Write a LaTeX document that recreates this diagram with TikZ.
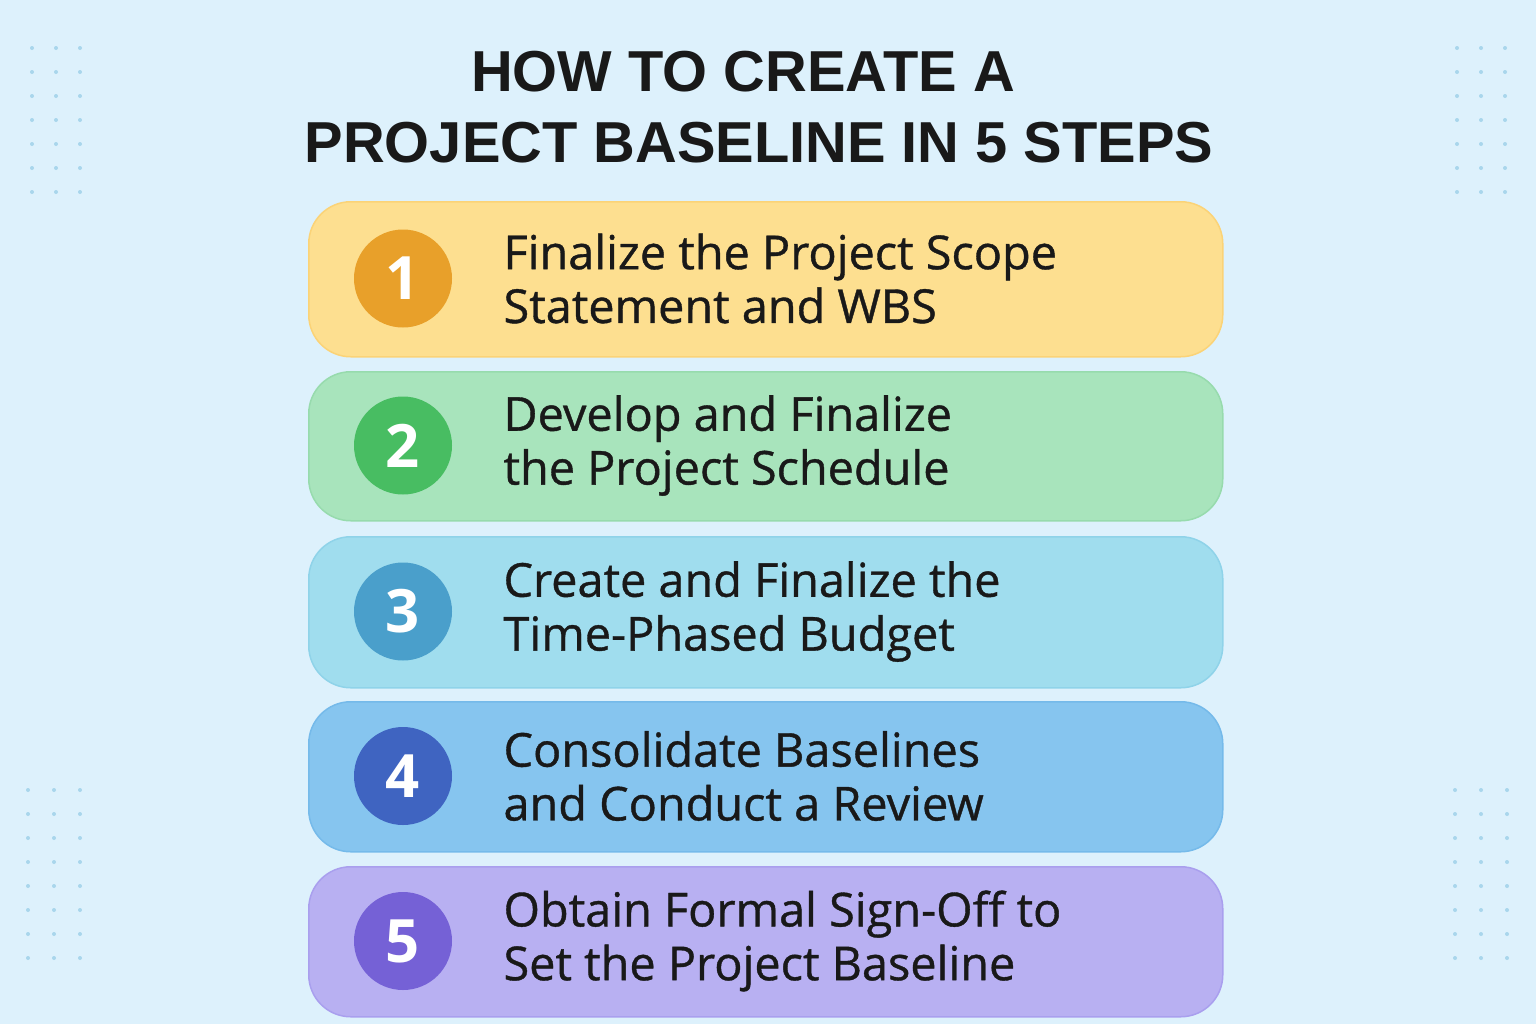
\documentclass[tikz,border=0pt]{standalone}
\usepackage{fontspec}
\setmainfont{Open Sans}
\newfontfamily\bodyfont{Open Sans}[FakeBold=0.8]
\newfontfamily\titlefont{Liberation Sans}
\definecolor{bg}{HTML}{DDF1FC}
\definecolor{dotc}{HTML}{A9D6EC}
\definecolor{fa}{HTML}{FDDF90}\definecolor{ba}{HTML}{FBD377}\definecolor{ca}{HTML}{E8A02A}
\definecolor{fb}{HTML}{A8E4BC}\definecolor{bb}{HTML}{97DBAD}\definecolor{cb}{HTML}{48BD62}
\definecolor{fc}{HTML}{A0DDEE}\definecolor{bc}{HTML}{8FD3E9}\definecolor{cc}{HTML}{4A9FCB}
\definecolor{fd}{HTML}{86C5EF}\definecolor{bd}{HTML}{75BAEA}\definecolor{cd}{HTML}{3F64C1}
\definecolor{fe}{HTML}{B8B0F2}\definecolor{be}{HTML}{A99FEE}\definecolor{ce}{HTML}{7561D6}
\tikzset{
 stepbox/.style={rounded corners=42bp,line width=1.5bp,minimum width=914bp,anchor=north west,inner sep=0pt},
 num/.style={circle,minimum size=98bp,inner sep=0pt,text=white,font=\fontsize{60}{60}\selectfont\bfseries},
 lbl/.style={anchor=west,align=left,text=black!90,font=\bodyfont\fontsize{47}{54}\selectfont}
}
\begin{document}
\begin{tikzpicture}[x=1bp,y=-1bp]
\fill[bg] (0,0) rectangle (1536,1024);
\useasboundingbox (0,0) rectangle (1536,1024);
\foreach \x in {32,56,80}{\foreach \y in {48,72,...,200}{\fill[dotc] (\x,\y) circle (2);}}
\foreach \x in {1457,1481,1505}{\foreach \y in {48,72,...,200}{\fill[dotc] (\x,\y) circle (2);}}
\foreach \x in {28,54,80}{\foreach \y in {790,814,...,960}{\fill[dotc] (\x,\y) circle (2);}}
\foreach \x in {1455,1481,1507}{\foreach \y in {790,814,...,960}{\fill[dotc] (\x,\y) circle (2);}}
\node[text=black!90,font=\titlefont\fontsize{58}{58}\selectfont\bfseries] (t1) at (743,72) {HOW TO CREATE A};
\node[text=black!90,font=\titlefont\fontsize{58}{58}\selectfont\bfseries] (t2) at (759,143) {PROJECT BASELINE IN 5 STEPS};
\foreach \i/\y/\h/\f/\b/\c/\a/\bb in {
 1/201/155/fa/ba/ca/Finalize the Project Scope/Statement and WBS,
 2/371/149/fb/bb/cb/Develop and Finalize/the Project Schedule,
 3/536/151/fc/bc/cc/Create and Finalize the/Time-Phased Budget,
 4/701/150/fd/bd/cd/Consolidate Baselines/and Conduct a Review,
 5/866/150/fe/be/ce/Obtain Formal Sign-Off to/Set the Project Baseline}{
 \node[stepbox,fill=\f,draw=\b,minimum height=\h bp] (box\i) at (308,\y) {};
 \node[num,fill=\c] (c\i) at (403,\y+\h/2) {\i};
 \node[lbl] (l\i) at (500,\y+\h/2) {\a\\\bb};
}
\end{tikzpicture}
\end{document}
